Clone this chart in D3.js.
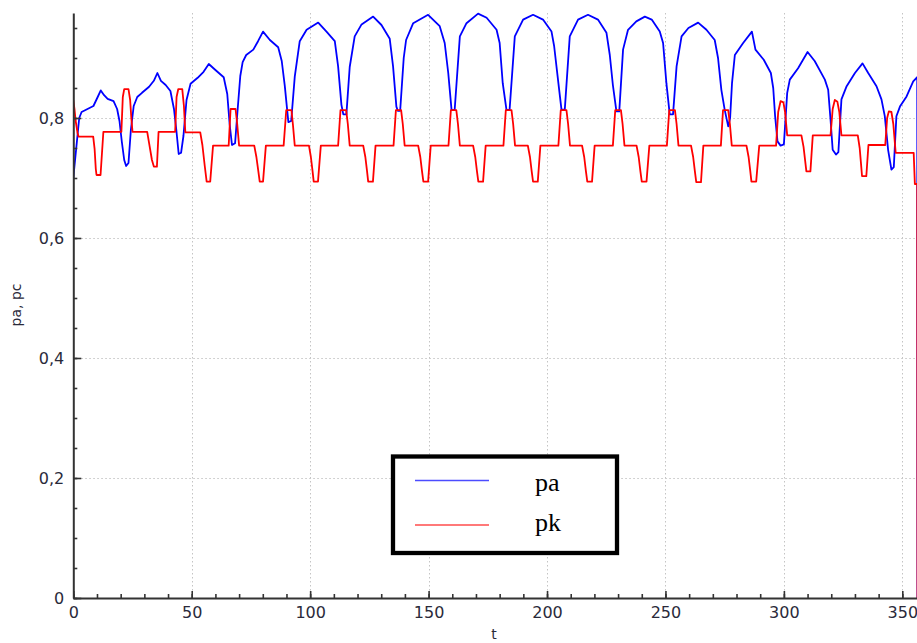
<!DOCTYPE html>
<html><head><meta charset="utf-8">
<script src="https://cdn.jsdelivr.net/npm/d3@7"></script>
<style>body{margin:0;background:#fff}svg{display:block}</style>
</head><body><svg id="c" width="917" height="643"></svg>
<script>
// ---- data (t, value) ----
const pa = [
[0,0.70],[1.5,0.76],[2.5,0.80],[3.5,0.81],[6,0.815],[8.5,0.82],[10.3,0.835],[11.6,0.846],[13,0.838],[14.5,0.832],[17,0.828],[18.5,0.815],[19.5,0.795],[20.5,0.76],[21.5,0.73],[22.3,0.72],[23.3,0.725],[24.3,0.78],[25.5,0.82],[27,0.835],[29,0.842],[32,0.852],[34,0.862],[35.5,0.875],[37,0.862],[39,0.855],[41,0.845],[42.5,0.815],[43.5,0.78],[44.5,0.74],[45.5,0.742],[46.5,0.77],[47.8,0.83],[49.5,0.857],[52.5,0.867],[55,0.877],[57.2,0.89],[60,0.88],[63.5,0.868],[65,0.84],[66,0.79],[67,0.755],[68.3,0.758],[69.3,0.81],[70.5,0.87],[71.5,0.893],[73,0.905],[76,0.914],[78,0.928],[80.1,0.944],[83,0.93],[86.5,0.918],[88,0.895],[89.3,0.853],[90.3,0.813],[90.8,0.793],[92,0.795],[93.5,0.869],[95.6,0.928],[98.5,0.947],[103.4,0.959],[106.9,0.944],[110.4,0.928],[111.8,0.886],[113.2,0.822],[114,0.806],[115.3,0.806],[116.7,0.885],[118.8,0.936],[121.7,0.956],[126.6,0.969],[130.1,0.955],[133.6,0.932],[135,0.886],[136.4,0.819],[137,0.812],[138,0.812],[139.5,0.9],[140.5,0.93],[143.5,0.958],[149.8,0.972],[154.7,0.953],[156.8,0.925],[158.3,0.875],[159.7,0.813],[161,0.813],[163.2,0.936],[166,0.958],[170.9,0.974],[174.5,0.967],[178.7,0.947],[180,0.925],[181.3,0.858],[182.9,0.813],[184.2,0.814],[186.4,0.936],[189.9,0.964],[194.1,0.972],[198.3,0.964],[201.9,0.944],[203,0.92],[204.8,0.858],[206.1,0.814],[207.5,0.814],[209.6,0.936],[213.1,0.964],[217.3,0.972],[221.5,0.964],[225.1,0.942],[226.5,0.905],[227.8,0.855],[229.3,0.811],[230.5,0.811],[232.1,0.914],[234.2,0.947],[237.7,0.961],[241.3,0.969],[244.2,0.964],[247.6,0.944],[249,0.925],[250.4,0.858],[251.8,0.806],[253.2,0.806],[254.7,0.886],[256.8,0.936],[259.7,0.95],[263.8,0.959],[267.3,0.947],[270.8,0.93],[272.2,0.9],[273.6,0.847],[275,0.814],[276.5,0.786],[277.3,0.80],[278.1,0.858],[279.3,0.905],[282.8,0.925],[286.5,0.944],[288,0.914],[291.5,0.897],[294.5,0.875],[295.5,0.85],[296.3,0.803],[297.3,0.761],[298.6,0.754],[300,0.756],[301.4,0.842],[302.5,0.864],[306,0.883],[310,0.91],[313,0.895],[317.3,0.864],[318.7,0.847],[319.7,0.797],[320.6,0.747],[322,0.739],[323,0.743],[324.3,0.831],[326.5,0.853],[330,0.875],[333.2,0.891],[335.6,0.875],[339.1,0.853],[341.2,0.831],[342.6,0.803],[344,0.747],[345.4,0.714],[346.4,0.718],[347.5,0.803],[349,0.819],[351.8,0.836],[354.6,0.861],[356.3,0.868],[356.4,0]
];
const pk = [
[0,0.83],[0.5,0.815],[1,0.795],[1.8,0.775],[2.2,0.769],[8.4,0.769],[9,0.748],[9.5,0.715],[9.8,0.705],[11.5,0.705],[12.7,0.777],[20.3,0.777],[20.9,0.835],[21.5,0.848],[23.3,0.848],[24,0.83],[24.5,0.80],[25,0.777],[31.2,0.777],[32,0.758],[33.2,0.73],[34,0.719],[35.3,0.719],[36,0.777],[43,0.777],[43.6,0.835],[44.3,0.848],[46,0.848],[46.7,0.82],[47.3,0.776],[53.6,0.776],[54.5,0.755],[55.5,0.72],[56.3,0.694],[57.8,0.694],[59,0.754],[65.6,0.754],[66.4,0.815],[68.5,0.815],[69.2,0.79],[70,0.754],
[76.4,0.754],[77.3,0.735],[78.1,0.712],[78.7,0.694],[80.1,0.694],[81.3,0.754],
[88.8,0.754],[89.9,0.813],[92.1,0.813],[92.7,0.79],[93.5,0.754],
[99.5,0.754],[100.3,0.735],[101,0.712],[101.5,0.694],[103.3,0.694],[104.5,0.754],
[111.8,0.754],[112.8,0.813],[115.2,0.813],[115.9,0.79],[116.7,0.754],
[122.4,0.754],[123.3,0.735],[124,0.712],[124.5,0.694],[126.5,0.694],[127.6,0.754],
[135.2,0.754],[136.2,0.813],[138.4,0.813],[139.1,0.79],[139.9,0.754],
[145.6,0.754],[146.5,0.735],[147.2,0.712],[147.8,0.694],[149.8,0.694],[150.9,0.754],
[158.4,0.754],[159.4,0.813],[161.7,0.813],[162.4,0.79],[163.2,0.754],
[168.8,0.754],[169.7,0.735],[170.4,0.712],[171,0.694],[173,0.694],[174.1,0.754],
[181.6,0.754],[182.6,0.813],[185,0.813],[185.7,0.79],[186.5,0.754],
[191.9,0.754],[192.8,0.735],[193.5,0.712],[194.1,0.694],[196.1,0.694],[197.2,0.754],
[204.8,0.754],[205.8,0.813],[208.2,0.813],[208.9,0.79],[209.7,0.754],
[214.8,0.754],[215.7,0.735],[216.4,0.712],[217,0.694],[219,0.694],[220.1,0.754],
[227.8,0.754],[228.8,0.813],[231.2,0.813],[231.9,0.79],[232.7,0.754],
[237.8,0.754],[238.7,0.735],[239.4,0.712],[240,0.694],[242,0.694],[243.2,0.754],
[250.6,0.754],[251.6,0.813],[254,0.813],[254.7,0.79],[255.5,0.754],
[260.8,0.754],[261.7,0.735],[262.4,0.712],[263,0.693],[265,0.693],[266,0.754],
[273.4,0.754],[274.3,0.813],[276.5,0.813],[277.2,0.79],[278,0.754],
[284.2,0.754],[285.1,0.735],[285.8,0.712],[286.3,0.694],[288.3,0.694],[289.6,0.754],
[296.7,0.754],[297.6,0.81],[298.6,0.828],[299.8,0.826],[300.5,0.81],[301.4,0.771],
[307.4,0.771],[308.3,0.752],[309,0.728],[309.5,0.711],[311.2,0.711],[312.2,0.771],
[319.7,0.771],[320.6,0.815],[321.5,0.83],[322.6,0.827],[323.4,0.81],[324.3,0.771],
[331.2,0.771],[332,0.75],[332.6,0.722],[333,0.703],[334.8,0.703],[335.7,0.755],
[342.8,0.755],[343.6,0.80],[344.3,0.811],[345.4,0.81],[346.2,0.79],[347.2,0.742],
[354.8,0.742],[355.3,0.69],[356.3,0.69],[356.4,0]
];
const xTicks = [0,50,100,150,200,250,300,350];
const xMinor = d3.range(0,357,10);
const yTicks = [0,0.2,0.4,0.6,0.8];
const yTickLabels = ["0","0,2","0,4","0,6","0,8"];
const yMinor = d3.range(0,0.97,0.05);
const seriesNames = ["pa","pk"];
const seriesColors = ["#0000ff","#ff0000"];
const xLabel = "t", yLabel = "pa, pc";

// ---- layout ----
const svg = d3.select("#c");
const x = d3.scaleLinear().domain([0,356.2]).range([73.3,917]);
const y = d3.scaleLinear().domain([0,0.975]).range([598,13]);
const font = "'DejaVu Sans', Verdana, sans-serif";

// grid
const grid = svg.append("g").attr("stroke","#c4c4c4").attr("stroke-width",1).attr("stroke-dasharray","1.5,2.5");
grid.selectAll("line.v").data(xTicks.filter(d=>d>0)).join("line")
  .attr("x1",d=>Math.round(x(d))+0.5).attr("x2",d=>Math.round(x(d))+0.5).attr("y1",y(0.975)).attr("y2",y(0));
grid.selectAll("line.h").data(yTicks.filter(d=>d>0)).join("line")
  .attr("y1",d=>Math.round(y(d))+0.5).attr("y2",d=>Math.round(y(d))+0.5).attr("x1",x(0)).attr("x2",917);

// series
svg.append("clipPath").attr("id","clip").append("rect").attr("x",x(0)).attr("y",0).attr("width",917-x(0)).attr("height",599);
const line = d3.line().x(d=>x(d[0])).y(d=>y(d[1]));
const plot = svg.append("g").attr("clip-path","url(#clip)");
[pa,pk].forEach((s,i)=>{
  plot.append("path").datum(s).attr("d",line).attr("fill","none")
    .attr("stroke",seriesColors[i]).attr("stroke-width",1.8).attr("stroke-linejoin","round");
});

// axes
function styleAxis(g){
  g.selectAll(".domain").attr("stroke","#333").attr("stroke-width",2);
  g.selectAll(".tick line").attr("stroke","#333").attr("stroke-width",1.6);
  g.selectAll(".tick text").attr("fill","#2a2a3a").attr("font-family",font).attr("font-size",16);
}
const yMinorAx = svg.append("g").attr("transform",`translate(${x(0)},0)`)
  .call(d3.axisLeft(y).tickValues(yMinor).tickSize(-4).tickFormat(""));
yMinorAx.select(".domain").remove();
yMinorAx.selectAll(".tick line").attr("stroke","#333").attr("stroke-width",1.6);
const xMinorAx = svg.append("g").attr("transform",`translate(0,${y(0)})`)
  .call(d3.axisBottom(x).tickValues(xMinor).tickSize(-4).tickFormat(""));
xMinorAx.select(".domain").remove();
xMinorAx.selectAll(".tick line").attr("stroke","#333").attr("stroke-width",1.6);

svg.append("g").attr("transform",`translate(${x(0)},0)`)
  .call(d3.axisLeft(y).tickValues(yTicks).tickSize(-8).tickSizeOuter(0).tickPadding(9)
    .tickFormat((d,i)=>yTickLabels[i]))
  .call(styleAxis);
svg.append("g").attr("transform",`translate(0,${y(0)})`)
  .call(d3.axisBottom(x).tickValues(xTicks).tickSize(-7).tickSizeOuter(0).tickPadding(9))
  .call(styleAxis);

// axis titles
svg.append("text").attr("transform","translate(21,305) rotate(-90)").attr("text-anchor","middle")
  .attr("font-family",font).attr("font-size",14).attr("fill","#2a2a3a").text(yLabel);
svg.append("text").attr("x",494).attr("y",639).attr("text-anchor","middle")
  .attr("font-family",font).attr("font-size",14).attr("fill","#2a2a3a").text(xLabel);

// legend
const lg = svg.append("g");
lg.append("rect").attr("x",393).attr("y",456.5).attr("width",224).attr("height",96.5)
  .attr("fill","#fff").attr("stroke","#000").attr("stroke-width",4.3);
const ly = [480.5,525];
const lty = [491,531];
seriesNames.forEach((n,i)=>{
  lg.append("line").attr("x1",415).attr("x2",489).attr("y1",ly[i]).attr("y2",ly[i])
    .attr("stroke",seriesColors[i]).attr("stroke-width",1.6).attr("stroke-opacity",0.7);
  lg.append("text").attr("x",535).attr("y",lty[i]).attr("font-family","'Liberation Serif', serif")
    .attr("font-size",26).attr("fill","#000").text(n);
});
</script></body></html>
